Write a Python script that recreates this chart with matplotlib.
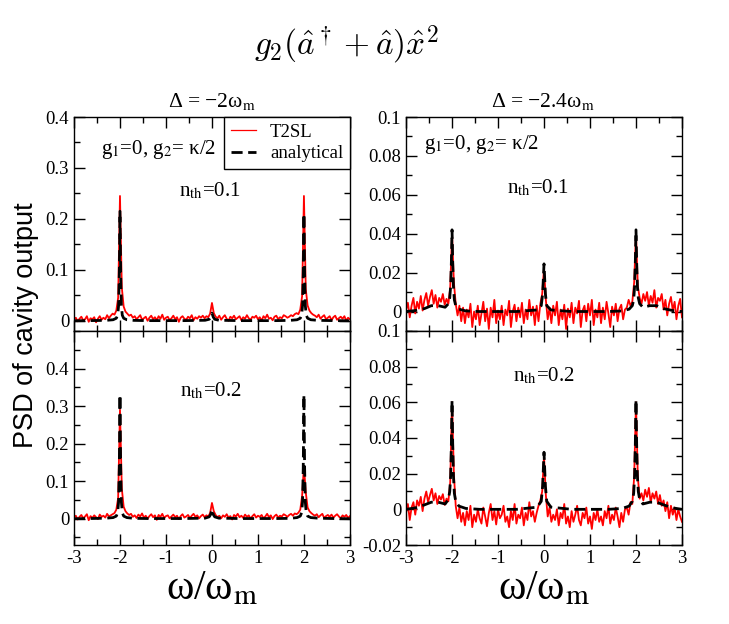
import matplotlib
matplotlib.use('Agg')
import matplotlib.pyplot as plt
import numpy as np
from matplotlib.ticker import MultipleLocator, FixedLocator, FuncFormatter

# Сетка частот для красной кривой (T2SL), шаг 0.04
RED_X = np.linspace(-3, 3, 151)

# Точки аналитической кривой (неравномерная сетка около пиков)
DASH_X = [-3, -2.8, -2.6, -2.45, -2.3, -2.15, -2.08, -2.05, -2.03, -2.015, -2.0, -1.985,
          -1.97, -1.95, -1.92, -1.85, -1.7, -1.4,
          -0.6, -0.15, -0.06, -0.03, 0, 0.03, 0.06, 0.15, 0.6,
          1.4, 1.7, 1.85, 1.92, 1.95, 1.97, 1.985, 2.0, 2.015, 2.03, 2.05, 2.08,
          2.15, 2.3, 2.45, 2.6, 2.8, 3]

# Delta = -2, n_th = 0.1 (единицы 1e-3)
tl_red = [2, 6, -1, 4, 8, 1, 3, 9, -2, 5,
          3, 7, -3, 4, 9, 2, 6, 3, 11, 5,
          10, 14, 12, 20, 45,
          245,
          65, 28, 18, 14, 10,
          12, 6, 9, 3, 7, 11, 2, 5, 8, 0,
          6, 10, 3, 7, 1, 9, 4, 12, 2, 6,
          8, 1, 5, 10, 3, 7, -2, 6, 9, 4,
          2, 8, 5, 11, 1, 7, 4, 9, 6, 10,
          5, 9, 7, 14, 35,
          15, 8, 5, 10, 2,
          7, 11, 4, 0, 8, 5, 10, 3, 6, 9,
          1, 7, 4, 11, 5, 2, 8, 6, 10, 3,
          7, 0, 9, 5, 12, 4, 6, 1, 8, 10,
          3, 7, 5, 11, 9, 6, 8, 11, 9, 13,
          15, 13, 22, 48,
          245,
          62, 30, 20, 15, 12,
          10, 7, 12, 4, 8, 11, 3, 6, 9, 1,
          7, 10, 2, 5, 8, 4, 9, 0, 6, 3]
tl_dash = [0, 0.2, 0.4, 0.6, 0.9, 2, 5, 11, 30, 90, 215, 90, 30, 11, 5, 2, 0.8, 0.3,
           0.3, 1, 3, 7, 15, 7, 3, 1, 0.3,
           0.3, 0.8, 2, 5, 11, 30, 90, 210, 90, 30, 11, 5, 2, 0.9, 0.6, 0.4, 0.2, 0]

# Delta = -2, n_th = 0.2 (единицы 1e-3)
bl_red = [3, 8, -2, 5, 10, 1, 6, 12, -4, 7,
          2, 9, 4, -1, 11, 5, 8, 3, 13, 6,
          9, 12, 15, 24, 55,
          290,
          80, 32, 20, 14, 10,
          13, 5, 9, 2, 11, 6, 14, 3, 8, 0,
          7, 12, 4, 9, -3, 10, 5, 13, 2, 7,
          9, 1, 6, 11, 4, 8, -1, 7, 12, 3,
          6, 10, 2, 8, 13, 5, 9, 1, 7, 11,
          4, 9, 6, 15, 42,
          20, 10, 4, 8, 1,
          9, 5, 12, 3, 7, -2, 10, 6, 13, 4,
          8, 2, 11, 5, 9, 0, 7, 12, 3, 8,
          5, 10, 1, 6, 13, 4, 9, -1, 7, 11,
          3, 8, 6, 12, 9, 5, 10, 13, 8, 14,
          12, 16, 24, 60,
          140,
          70, 30, 20, 15, 11,
          8, 12, 4, 9, 13, 2, 7, 10, 5, 11,
          3, 8, 12, 6, 1, 9, 5, 10, 2, 7]
bl_dash = [0, 0.3, 0.6, 1, 1.5, 3, 7, 16, 45, 135, 330, 135, 45, 16, 7, 3, 1, 0.5,
           0.5, 1.5, 5, 11, 25, 11, 5, 1.5, 0.5,
           0.5, 1, 3, 7, 16, 45, 135, 330, 135, 45, 16, 7, 3, 1.5, 1, 0.6, 0.3, 0]

# Delta = -2.4, n_th = 0.1 (единицы 1e-4)
tr_red = [10, 45, -30, 30, 70, -10, 50, 15, 80, 5,
          60, 95, 30, 75, 110, 40, 85, 20, 70, 50,
          90, 35, 65, 40, 120,
          400,
          150, 40, -20, 30, -50,
          20, -60, 10, -30, 40, -80, 0, -40, 30, -70,
          -10, 50, -50, 15, -90, 20, -30, 60, -60, 5,
          -40, 30, -70, 10, -20, 55, -80, 0, 35, -50,
          20, -30, 45, -60, 10, -40, 60, -20, 25, -70,
          30, -50, 40, 90, 220,
          60, -40, 20, -60, 30,
          -20, 50, -70, 10, -40, 35, -90, 15, -30, 45,
          -60, 20, -10, 55, -80, 5, 30, -50, 40, -20,
          60, -70, 10, -30, 45, -60, 20, -40, 50, -10,
          -80, 25, -20, 40, -50, 15, 35, -40, 10, 20,
          60, 30, 50, 150,
          400,
          130, 70, 40, 90, 55,
          100, 30, 80, 45, 110, 20, 70, 55, 90, 10,
          60, -20, 40, 75, 5, 50, -40, 30, 65, -30]
tr_dash = [0, 5, 15, 30, 30, 22, 40, 70, 130, 250, 420, 250, 130, 60, 30, 12, 3, 0,
           0, 8, 30, 90, 245, 90, 30, 8, 0,
           0, 3, 12, 30, 60, 130, 250, 420, 250, 130, 70, 40, 22, 30, 30, 15, 5, 0]

# Delta = -2.4, n_th = 0.2 (единицы 1e-4)
br_red = [-20, 30, -60, 10, 40, -30, 50, 20, 70, -10,
          60, 100, 40, 80, 115, 50, 90, 30, 75, 55,
          85, 25, 60, 45, 150,
          600,
          200, 20, -50, 10, -70,
          -20, -90, -10, -60, 20, -100, -30, -70, 0, -50,
          -80, 10, -40, -95, -20, 30, -60, -10, -85, 0,
          -50, -30, 20, -70, -40, -100, -10, -60, 30, -80,
          -30, -50, 10, -90, -20, -60, 40, -40, -10, -70,
          -20, 20, 50, 100, 300,
          80, -40, 10, -70, -30,
          -60, 0, -90, -20, -50, 30, -80, -40, -100, -10,
          -70, -30, 20, -60, -90, -20, -50, 10, -80, -40,
          -110, -20, -60, 0, -70, -40, -90, -10, -50, 20,
          -80, -30, -60, 10, -40, -100, -20, -70, 0, 10,
          -30, 40, 30, 180,
          600,
          180, 60, 90, 50, 110,
          70, 120, 40, 90, 60, 100, 30, 80, 20, 50,
          -10, 40, -50, 20, -30, 10, -60, 0, -40, -70]
br_dash = [0, 8, 25, 40, 40, 30, 55, 100, 190, 360, 610, 360, 190, 90, 45, 18, 5, 0,
           0, 12, 45, 130, 320, 130, 45, 12, 0,
           0, 5, 18, 45, 90, 190, 360, 615, 360, 190, 100, 55, 30, 40, 40, 25, 8, 0]

SERIF = 'Liberation Serif'
SANS = 'Liberation Sans'


def fmt(v, pos):
    return '%g' % round(v, 6)


def style_axes(ax, ylim, ymajor, yminor, show_x):
    ax.set_xlim(-3, 3)
    ax.set_ylim(*ylim)
    ax.xaxis.set_major_locator(MultipleLocator(1))
    ax.xaxis.set_minor_locator(MultipleLocator(0.5))
    ax.yaxis.set_major_locator(FixedLocator(ymajor))
    ax.yaxis.set_minor_locator(MultipleLocator(yminor))
    ax.yaxis.set_major_formatter(FuncFormatter(fmt))
    ax.xaxis.set_major_formatter(FuncFormatter(fmt))
    ax.tick_params(which='both', direction='in', top=True, right=True, width=1)
    ax.tick_params(which='major', length=8, labelsize=13.5)
    ax.tick_params(which='minor', length=4)
    for lab in ax.get_xticklabels() + ax.get_yticklabels():
        lab.set_family(SERIF)
    if not show_x:
        ax.tick_params(labelbottom=False)
    for s in ax.spines.values():
        s.set_linewidth(1)


def draw_panel(ax, red, dash, scale):
    ax.plot(RED_X, np.array(red) * scale, color='red', lw=1.3, label='T2SL')
    line, = ax.plot(DASH_X, np.array(dash) * scale, color='black', lw=2,
                    label='analytical')
    line.set_dashes([4, 2])


fig = plt.figure(figsize=(7.29, 6.24), dpi=100)

ax_tl = fig.add_axes([0.1015, 0.4696, 0.3785, 0.3429])
ax_bl = fig.add_axes([0.1015, 0.1266, 0.3785, 0.3430])
ax_tr = fig.add_axes([0.557, 0.4696, 0.3785, 0.3429])
ax_br = fig.add_axes([0.557, 0.1266, 0.3785, 0.3430])

draw_panel(ax_tl, tl_red, tl_dash, 1e-3)
draw_panel(ax_bl, bl_red, bl_dash, 1e-3)
draw_panel(ax_tr, tr_red, tr_dash, 1e-4)
draw_panel(ax_br, br_red, br_dash, 1e-4)

style_axes(ax_tl, (-0.02, 0.4), [0, 0.1, 0.2, 0.3, 0.4], 0.05, False)
style_axes(ax_bl, (-0.07, 0.5), [0, 0.1, 0.2, 0.3, 0.4], 0.05, True)
style_axes(ax_tr, (-0.01, 0.1), [0, 0.02, 0.04, 0.06, 0.08, 0.1], 0.01, False)
style_axes(ax_br, (-0.02, 0.1), [-0.02, 0, 0.02, 0.04, 0.06, 0.08, 0.1], 0.01, True)

leg = ax_tl.legend(loc='upper right', borderaxespad=0, fancybox=False,
                   edgecolor='black', framealpha=1, handlelength=1.35,
                   handletextpad=0.75, borderpad=0.35, labelspacing=0.25,
                   prop={'family': SERIF, 'size': 13.5})
leg.get_frame().set_linewidth(1)
for h in leg.get_lines()[:1]:
    h.set_linewidth(0.9)

txt = dict(family=SERIF, size=15, ha='center', va='center', math_fontfamily='stix')
ax_tl.text(0.305, 0.846, 'g$_1$=0, g$_2$= κ/2', transform=ax_tl.transAxes, **txt)
ax_tr.text(0.273, 0.87, 'g$_1$=0, g$_2$= κ/2', transform=ax_tr.transAxes, **txt)
ax_tl.text(0.493, 0.655, 'n$_{\\rm th}$=0.1', transform=ax_tl.transAxes, **txt)
ax_tr.text(0.478, 0.668, 'n$_{\\rm th}$=0.1', transform=ax_tr.transAxes, **txt)
ax_bl.text(0.496, 0.72, 'n$_{\\rm th}$=0.2', transform=ax_bl.transAxes, **txt)
ax_br.text(0.5, 0.79, 'n$_{\\rm th}$=0.2', transform=ax_br.transAxes, **txt)

for ax in (ax_bl, ax_br):
    ax.set_xlabel('ω/ω$_{\\rm m}$', family=SERIF, size=30, math_fontfamily='stix',
                  labelpad=2)

fig.text(0.475, 0.928, r'$g_2(\hat{a}^\dagger + \hat{a})\hat{x}^2$', ha='center',
         va='center', size=24, math_fontfamily='cm')
fig.text(0.29, 0.838, 'Δ = −2ω$_{\\rm m}$', ha='center', va='center', family=SERIF,
         size=15.5, math_fontfamily='stix')
fig.text(0.744, 0.838, 'Δ = −2.4ω$_{\\rm m}$', ha='center', va='center', family=SERIF,
         size=15.5, math_fontfamily='stix')
fig.text(0.036, 0.479, 'PSD of cavity output', rotation=90, ha='center', va='center',
         family=SANS, size=19.5)

fig.savefig('out.png', dpi=100)
